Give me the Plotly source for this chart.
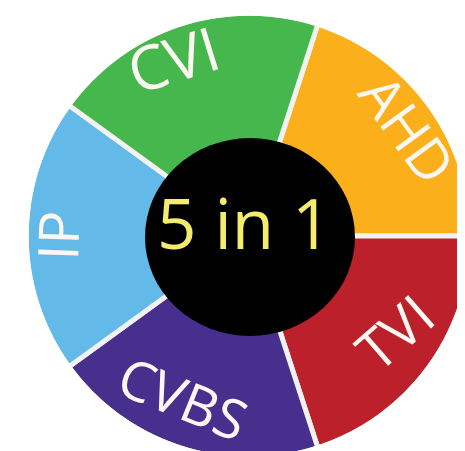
import math
import plotly.graph_objects as go

labels = ["AHD", "TVI", "CVBS", "IP", "CVI"]
values = [1, 1, 1, 1, 1]
colors = ["#fbb01b", "#bc212b", "#47308d", "#63b9e8", "#46b74c"]
center_text = "5 in 1"

# label styling (hand-placed look of the original)
label_sizes = [56, 56, 55, 56, 61]
label_pos_nudge = [2, -2, 4, 0, -5.5]      # degrees along the ring
label_tilt_nudge = [0, 13, 4, 2, 1]        # degrees of extra text rotation

W, H = 465, 451
cx, cy, R = 241, 228, 223
rotation = 18
inner = (137, 130, 347, 328)

fig = go.Figure(go.Pie(
    labels=labels, values=values, sort=False, direction="clockwise", rotation=rotation,
    marker=dict(colors=colors, line=dict(color="#f2f2f2", width=5)),
    textinfo="none",
    domain=dict(x=[(cx - R) / W, (cx + R) / W], y=[(H - cy - R) / H, (H - cy + R) / H]),
    hoverinfo="skip", showlegend=False,
))

total = sum(values)
acc = 0
r_text = 183
for lab, v, fs, pn, tn in zip(labels, values, label_sizes, label_pos_nudge, label_tilt_nudge):
    mid = rotation + 360 * (acc + v / 2) / total
    acc += v
    a = math.radians(mid + pn)
    tx, ty = cx + r_text * math.sin(a), cy - r_text * math.cos(a)
    ang = ((mid + 90) % 180) - 90 + tn
    t = math.radians(ang)
    off = 0.17 * fs
    bx, by = tx + off * math.sin(t), ty - off * math.cos(t)
    fig.add_annotation(text=lab, xref="paper", yref="paper", x=bx / W, y=1 - by / H,
                       xanchor="center", yanchor="middle", textangle=ang, showarrow=False,
                       font=dict(family="Open Sans", size=fs, color="#fdf7f2"))

# hide the outline drawn along the outer rim (original has no rim)
fig.add_shape(type="circle", xref="paper", yref="paper", layer="above",
              x0=(cx - R) / W, x1=(cx + R) / W, y0=(H - cy - R) / H, y1=(H - cy + R) / H,
              fillcolor="rgba(0,0,0,0)", line=dict(color="white", width=5.5))
fig.add_shape(type="circle", xref="paper", yref="paper", layer="above",
              x0=inner[0] / W, x1=inner[2] / W, y0=(H - inner[3]) / H, y1=(H - inner[1]) / H,
              fillcolor="black", line=dict(width=0))
fig.add_annotation(text=center_text, xref="paper", yref="paper", x=236 / W, y=(H - 214) / H,
                   showarrow=False, font=dict(family="Open Sans", size=69, color="#f3ec6f"))

fig.update_layout(width=W, height=H, margin=dict(l=0, r=0, t=0, b=0),
                  paper_bgcolor="white", plot_bgcolor="white", showlegend=False)
fig.write_html("out.html")
